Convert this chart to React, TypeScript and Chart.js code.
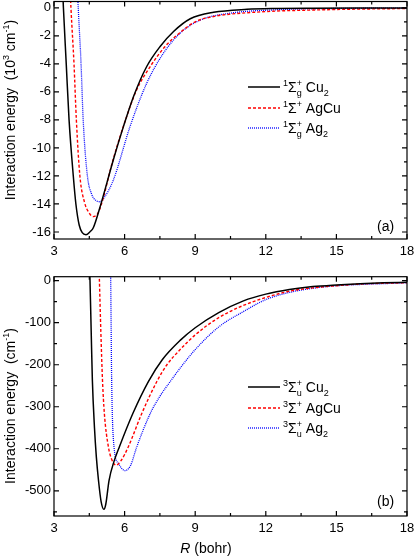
import React, { useEffect, useRef } from 'react';
import { Chart, registerables } from 'chart.js';
Chart.register(...registerables);

const FONT = '"Liberation Sans", Arial, sans-serif';

// ---------- Panel (a): singlet states, energy in 10^3 cm^-1 ----------
const rCu2S = [3.35, 3.40, 3.52, 3.64, 3.82, 3.93, 4.07, 4.20, 4.36, 4.55, 4.67, 4.96, 5.52, 5.95, 6.38, 6.94, 7.51, 8.08, 8.79, 9.78, 11.2, 12.5, 14, 16, 18];
const eCu2S = [2.0, 0, -4, -8, -12, -14, -15.5, -16.05, -16.2, -15.95, -15.7, -14.2, -10.86, -8.48, -6.33, -4.19, -2.76, -1.69, -0.78, -0.32, -0.11, -0.05, -0.025, -0.012, -0.006];

const rAgCuS = [3.67, 3.72, 3.85, 3.95, 4.10, 4.30, 4.48, 4.67, 4.85, 5.0, 5.5, 6.0, 6.5, 7.09, 7.72, 8.3, 9.0, 9.78, 10.5, 11.5, 12.6, 13.5, 15, 16.5, 18];
const eAgCuS = [2.0, 0, -4, -8, -12, -13.9, -14.6, -14.9, -14.7, -14.1, -10.9, -8.2, -5.9, -4.19, -2.76, -1.85, -1.0, -0.62, -0.45, -0.32, -0.22, -0.18, -0.12, -0.08, -0.05];

const rAg2S = [3.98, 4.03, 4.15, 4.24, 4.42, 4.60, 4.78, 4.95, 5.15, 5.52, 6.23, 6.94, 7.65, 8.36, 9.21, 10.5, 12.6, 14, 16, 18];
const eAg2S = [2.0, 0, -4, -8, -12, -13.3, -13.75, -13.84, -13.5, -12.3, -8.48, -5.38, -3.24, -1.81, -0.88, -0.38, -0.13, -0.07, -0.035, -0.02];

// ---------- Panel (b): triplet states, energy in cm^-1 ----------
const rCu2T = [4.51, 4.53, 4.58, 4.63, 4.72, 4.80, 4.89, 5.00, 5.12, 5.20, 5.34, 5.55, 5.78, 6.35, 7.01, 7.60, 8.36, 9, 10, 11.05, 12, 13, 14, 15, 16, 17, 18];
const eCu2T = [40, 0, -120, -236, -350, -420, -475, -525, -544, -532, -475, -430, -395, -316, -240, -188, -142, -112, -76, -48, -32, -21, -14, -10, -7, -5, -4];

const rAgCuT = [4.91, 4.93, 4.99, 5.06, 5.14, 5.31, 5.45, 5.64, 5.85, 6.16, 6.73, 7.37, 7.8, 8.36, 9, 10, 11, 12, 13, 14, 15, 16, 17, 18];
const eAgCuT = [40, 0, -120, -236, -316, -395, -425, -439, -428, -395, -316, -240, -200, -164, -129, -88, -60, -40, -25, -17, -12, -8, -6, -5];

const rAg2T = [5.40, 5.41, 5.45, 5.55, 5.74, 6.02, 6.25, 6.52, 7.09, 7.5, 7.94, 8.36, 9, 10, 11, 12, 13, 14, 15, 16, 17, 18];
const eAg2T = [40, 0, -236, -395, -435, -452, -440, -395, -316, -275, -240, -208, -164, -110, -75, -45, -28, -18, -12, -9, -7, -5];

// ---------- Axes ----------
const xMin = 3, xMax = 18;
const xTicks = [3, 6, 9, 12, 15, 18];
const xMinor = [4.5, 7.5, 10.5, 13.5, 16.5];
const yTopMin = -16.5, yTopMax = 0.45;
const yTicksTop = [-16, -14, -12, -10, -8, -6, -4, -2, 0];
const yMinorTop = [-15, -13, -11, -9, -7, -5, -3, -1];
const yBotMin = -560, yBotMax = 9.5;
const yTicksBot = [-500, -400, -300, -200, -100, 0];
const yMinorBot = [-550, -450, -350, -250, -150, -50];

type Seg = { t?: string; k?: 'n' | 'sup' | 'sub' | 'it'; sup?: string; sub?: string };

function fontFor(k: string | undefined, size: number) {
  if (k === 'sup' || k === 'sub') return `${Math.round(size * 0.64)}px ${FONT}`;
  if (k === 'it') return `italic ${size}px ${FONT}`;
  return `${size}px ${FONT}`;
}

function measureRich(ctx: CanvasRenderingContext2D, segs: Seg[], size: number) {
  let w = 0;
  for (const s of segs) {
    if (s.sup !== undefined || s.sub !== undefined) {
      ctx.font = fontFor('sup', size);
      w += Math.max(ctx.measureText(s.sup || '').width, ctx.measureText(s.sub || '').width);
    } else {
      ctx.font = fontFor(s.k, size);
      w += ctx.measureText(s.t || '').width;
    }
  }
  return w;
}

function drawRich(ctx: CanvasRenderingContext2D, segs: Seg[], x: number, y: number, size: number) {
  ctx.textAlign = 'left';
  ctx.textBaseline = 'alphabetic';
  ctx.fillStyle = '#000';
  let cx = x;
  for (const s of segs) {
    if (s.sup !== undefined || s.sub !== undefined) {
      ctx.font = fontFor('sup', size);
      const w1 = ctx.measureText(s.sup || '').width;
      const w2 = ctx.measureText(s.sub || '').width;
      if (s.sup) ctx.fillText(s.sup, cx, y - size * 0.45);
      if (s.sub) ctx.fillText(s.sub, cx, y + size * 0.28);
      cx += Math.max(w1, w2);
    } else {
      ctx.font = fontFor(s.k, size);
      const dy = s.k === 'sup' ? -size * 0.42 : s.k === 'sub' ? size * 0.25 : 0;
      ctx.fillText(s.t || '', cx, y + dy);
      cx += ctx.measureText(s.t || '').width;
    }
  }
}

interface LegendItem { color: string; dash: number[]; width: number; segs: Seg[]; y: number }
interface PanelDeco {
  xMinor: number[];
  yMajor: number[];
  yMinor: number[];
  legend: LegendItem[];
  label: string;
  labelY: number;
  yTitle: Seg[];
  yTitleCenter: number;
  xTitle?: boolean;
}

const decoPlugin = {
  id: 'deco',
  afterDraw(chart: any) {
    const deco: PanelDeco = chart.options.plugins.deco;
    if (!deco) return;
    const ctx: CanvasRenderingContext2D = chart.ctx;
    const { left, right, top, bottom } = chart.chartArea;
    const xs = chart.scales.x;
    const ys = chart.scales.y;
    ctx.save();
    ctx.strokeStyle = '#000';
    ctx.lineWidth = 1.2;
    ctx.setLineDash([]);
    ctx.beginPath();
    const tick = (vals: number[], len: number) => {
      for (const v of vals) {
        const px = xs.getPixelForValue(v);
        ctx.moveTo(px, bottom); ctx.lineTo(px, bottom - len);
        ctx.moveTo(px, top); ctx.lineTo(px, top + len);
      }
    };
    const ytick = (vals: number[], len: number) => {
      for (const v of vals) {
        const py = ys.getPixelForValue(v);
        ctx.moveTo(left, py); ctx.lineTo(left + len, py);
        ctx.moveTo(right, py); ctx.lineTo(right - len, py);
      }
    };
    tick(xTicks, 5);
    tick(deco.xMinor, 3);
    ytick(deco.yMajor, 5);
    ytick(deco.yMinor, 3);
    ctx.stroke();
    ctx.strokeRect(left, top, right - left, bottom - top);

    // legend
    for (const it of deco.legend) {
      ctx.beginPath();
      ctx.strokeStyle = it.color;
      ctx.lineWidth = it.width;
      ctx.setLineDash(it.dash);
      ctx.moveTo(248, it.y);
      ctx.lineTo(280, it.y);
      ctx.stroke();
      ctx.setLineDash([]);
      drawRich(ctx, it.segs, 283, it.y + 5, 14);
    }

    // panel label
    ctx.font = `14px ${FONT}`;
    ctx.fillStyle = '#000';
    ctx.textAlign = 'left';
    ctx.textBaseline = 'alphabetic';
    ctx.fillText(deco.label, 377, deco.labelY);

    // y title (rotated)
    ctx.save();
    const w = measureRich(ctx, deco.yTitle, 14);
    ctx.translate(15, deco.yTitleCenter);
    ctx.rotate(-Math.PI / 2);
    drawRich(ctx, deco.yTitle, -w / 2, 0, 14);
    ctx.restore();

    // x title
    if (deco.xTitle) {
      const segs: Seg[] = [{ t: 'R', k: 'it' }, { t: ' (bohr)' }];
      const wx = measureRich(ctx, segs, 14);
      drawRich(ctx, segs, 206 - wx / 2, chart.height - 4, 14);
    }
    ctx.restore();
  },
};

function pts(xs: number[], ys: number[]) {
  return xs.map((x, i) => ({ x, y: ys[i] }));
}

function makeDatasets(r: number[][], e: number[][], names: string[]) {
  const styles = [
    { borderColor: '#000000', borderWidth: 1.5, borderDash: [] as number[] },
    { borderColor: '#ff0000', borderWidth: 1.4, borderDash: [3, 2] },
    { borderColor: '#0000ff', borderWidth: 1.3, borderDash: [1, 1] },
  ];
  return r.map((rr, i) => ({
    label: names[i],
    data: pts(rr, e[i]),
    ...styles[i],
    pointRadius: 0,
    fill: false,
    cubicInterpolationMode: 'monotone' as const,
  }));
}

function makeConfig(opts: {
  datasets: any[];
  yMin: number; yMax: number; yTicks: number[];
  padTop: number; xHeight: number; xPad: number;
  deco: PanelDeco;
}) {
  return {
    type: 'line' as const,
    data: { datasets: opts.datasets },
    options: {
      responsive: false,
      animation: false as const,
      devicePixelRatio: 1,
      layout: { padding: { top: opts.padTop, right: 8, left: 0, bottom: 0 } },
      scales: {
        x: {
          type: 'linear' as const,
          min: xMin, max: xMax,
          grid: { display: false, drawTicks: false },
          border: { display: false },
          afterBuildTicks: (s: any) => { s.ticks = xTicks.map((v) => ({ value: v })); },
          afterFit: (s: any) => { s.height = opts.xHeight; s.paddingLeft = 0; s.paddingRight = 0; },
          ticks: { color: '#000', font: { family: FONT, size: 13 }, padding: opts.xPad, maxRotation: 0, autoSkip: false, callback: (v: any) => String(v) },
        },
        y: {
          type: 'linear' as const,
          min: opts.yMin, max: opts.yMax,
          grid: { display: false, drawTicks: false },
          border: { display: false },
          afterBuildTicks: (s: any) => { s.ticks = opts.yTicks.map((v) => ({ value: v })); },
          afterFit: (s: any) => { s.width = 54; s.paddingTop = 0; s.paddingBottom = 0; },
          ticks: { color: '#000', font: { family: FONT, size: 13 }, padding: 3, autoSkip: false, callback: (v: any) => String(v) },
        },
      },
      plugins: {
        legend: { display: false },
        tooltip: { enabled: false },
        deco: opts.deco,
      },
    },
    plugins: [decoPlugin],
  };
}

function Panel(props: { cfg: any; width: number; height: number; top: number }) {
  const ref = useRef<HTMLCanvasElement>(null);
  useEffect(() => {
    if (!ref.current) return;
    const chart = new Chart(ref.current, props.cfg);
    return () => chart.destroy();
  }, []);
  return (
    <canvas
      ref={ref}
      width={props.width}
      height={props.height}
      style={{ position: 'absolute', left: 0, top: props.top, width: props.width, height: props.height, display: 'block' }}
    />
  );
}

export default function App() {
  const topCfg = makeConfig({
    datasets: makeDatasets([rCu2S, rAgCuS, rAg2S], [eCu2S, eAgCuS, eAg2S], ['Cu2', 'AgCu', 'Ag2']),
    yMin: yTopMin, yMax: yTopMax, yTicks: yTicksTop,
    padTop: 1.5, xHeight: 23, xPad: 5,
    deco: {
      xMinor,
      yMajor: yTicksTop,
      yMinor: yMinorTop,
      legend: [
        { color: '#000000', dash: [], width: 1.5, y: 87, segs: [{ t: '1', k: 'sup' }, { t: 'Σ' }, { sup: '+', sub: 'g' }, { t: ' Cu' }, { t: '2', k: 'sub' }] },
        { color: '#ff0000', dash: [3, 2], width: 1.4, y: 108, segs: [{ t: '1', k: 'sup' }, { t: 'Σ' }, { t: '+', k: 'sup' }, { t: ' AgCu' }] },
        { color: '#0000ff', dash: [1, 1], width: 1.3, y: 128, segs: [{ t: '1', k: 'sup' }, { t: 'Σ' }, { sup: '+', sub: 'g' }, { t: ' Ag' }, { t: '2', k: 'sub' }] },
      ],
      label: '(a)',
      labelY: 231,
      yTitle: [{ t: 'Interaction energy  (10' }, { t: '3', k: 'sup' }, { t: ' cm' }, { t: '-1', k: 'sup' }, { t: ')' }],
      yTitleCenter: 110,
    },
  });
  const botTop = 262;
  const botCfg = makeConfig({
    datasets: makeDatasets([rCu2T, rAgCuT, rAg2T], [eCu2T, eAgCuT, eAg2T], ['Cu2', 'AgCu', 'Ag2']),
    yMin: yBotMin, yMax: yBotMax, yTicks: yTicksBot,
    padTop: 276.7 - botTop, xHeight: 41, xPad: 5,
    deco: {
      xMinor,
      yMajor: yTicksBot,
      yMinor: yMinorBot,
      legend: [
        { color: '#000000', dash: [], width: 1.5, y: 387 - botTop, segs: [{ t: '3', k: 'sup' }, { t: 'Σ' }, { sup: '+', sub: 'u' }, { t: ' Cu' }, { t: '2', k: 'sub' }] },
        { color: '#ff0000', dash: [3, 2], width: 1.4, y: 408 - botTop, segs: [{ t: '3', k: 'sup' }, { t: 'Σ' }, { t: '+', k: 'sup' }, { t: ' AgCu' }] },
        { color: '#0000ff', dash: [1, 1], width: 1.3, y: 428 - botTop, segs: [{ t: '3', k: 'sup' }, { t: 'Σ' }, { sup: '+', sub: 'u' }, { t: ' Ag' }, { t: '2', k: 'sub' }] },
      ],
      label: '(b)',
      labelY: 505.5 - botTop,
      yTitle: [{ t: 'Interaction energy  (cm' }, { t: '-1', k: 'sup' }, { t: ')' }],
      yTitleCenter: 406 - botTop,
      xTitle: true,
    },
  });
  return (
    <div style={{ position: 'absolute', left: 0, top: 0, width: 415, height: 557, background: '#fff', overflow: 'hidden' }}>
      <Panel cfg={topCfg} width={415} height={262} top={0} />
      <Panel cfg={botCfg} width={415} height={557 - botTop} top={botTop} />
    </div>
  );
}
